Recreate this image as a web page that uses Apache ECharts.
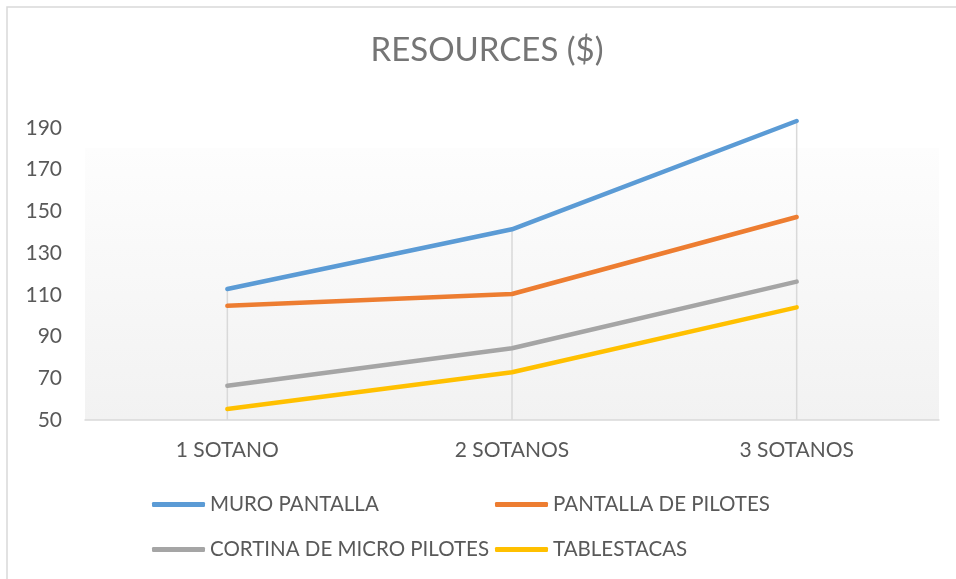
<!DOCTYPE html>
<html>
<head>
<meta charset="utf-8">
<script src="https://cdn.jsdelivr.net/npm/echarts@6/dist/echarts.min.js"></script>
<style>
    html,
    body {
        margin: 0;
        padding: 0;
        background: #ffffff;
    }
    .echart-el {
        width: 956px;
        height: 579px;
    }
</style>
</head>
<body>
<div id="echart_el" class="echart-el"></div>
<script>
const categories = ["1 SOTANO", "2 SOTANOS", "3 SOTANOS"];
const muro_pantalla = [112.8, 141.4, 193.3];
const pantalla_de_pilotes = [104.7, 110.4, 147.3];
const cortina_de_micro_pilotes = [66.4, 84.4, 116.3];
const tablestacas = [55.3, 72.9, 104.0];
const y_ticks = [50, 70, 90, 110, 130, 150, 170, 190];

const series_list = [
    { name: "MURO PANTALLA", data: muro_pantalla, color: "#5b9bd5" },
    { name: "PANTALLA DE PILOTES", data: pantalla_de_pilotes, color: "#ed7d31" },
    { name: "CORTINA DE MICRO PILOTES", data: cortina_de_micro_pilotes, color: "#a5a5a5" },
    { name: "TABLESTACAS", data: tablestacas, color: "#ffc000" },
];

// drop lines: from the highest point of each category down to the axis
const drop_values = categories.map((c, i) =>
    Math.max(...series_list.map((s) => s.data[i]))
);

const font = "Lato, 'Open Sans', sans-serif";
const label_color = "#595959";

let echart_instance = null;
let config = {};

const legend_item = function (s, left, top) {
    return {
        data: [s.name],
        left: left,
        top: top,
        padding: 0,
        icon: "roundRect",
        itemWidth: 53,
        itemHeight: 5,
        textStyle: {
            fontFamily: font,
            fontSize: 20.5,
            color: label_color,
        },
    };
};

const get_config = function () {
    config = {
        animation: false,
        textStyle: {
            fontFamily: font,
        },
        title: {
            text: "RESOURCES ($)",
            left: 487,
            top: 34,
            padding: 0,
            textAlign: "center",
            textStyle: {
                fontFamily: font,
                fontSize: 33,
                fontWeight: "normal",
                color: "#757575",
            },
        },
        graphic: [
            {
                type: "rect",
                shape: { x: 7, y: 7, width: 1000, height: 1000 },
                style: { fill: "none", stroke: "#d9d9d9", lineWidth: 1.5 },
                silent: true,
            },
        ],
        grid: {
            left: 85,
            right: 17,
            top: 107,
            bottom: 159,
            show: true,
            borderWidth: 0,
            backgroundColor: new echarts.graphic.LinearGradient(0, 0, 0, 1, [
                { offset: 0, color: "#ffffff" },
                { offset: 0.13, color: "#ffffff" },
                { offset: 0.131, color: "#fdfdfd" },
                { offset: 1, color: "#f2f2f2" },
            ]),
        },
        legend: [
            legend_item(series_list[0], 152, 494),
            legend_item(series_list[1], 495, 494),
            legend_item(series_list[2], 152, 539),
            legend_item(series_list[3], 495, 539),
        ],
        xAxis: {
            type: "category",
            data: categories,
            axisLine: {
                show: true,
                lineStyle: { color: "#d9d9d9", width: 1.5 },
            },
            axisTick: { show: false },
            splitLine: { show: false },
            axisLabel: {
                margin: 20,
                fontFamily: font,
                fontSize: 21,
                color: label_color,
            },
        },
        yAxis: {
            type: "value",
            min: 50,
            max: 200,
            interval: 10,
            axisLine: { show: false },
            axisTick: { show: false },
            splitLine: { show: false },
            axisLabel: {
                margin: 23,
                fontFamily: font,
                fontSize: 21,
                color: label_color,
                formatter: (v) => (y_ticks.includes(v) ? String(v) : ""),
            },
        },
        series: [
            {
                name: "drop",
                type: "bar",
                data: drop_values,
                barWidth: 1.5,
                itemStyle: { color: "#d9d9d9" },
                silent: true,
                z: 1,
            },
            ...series_list.map((s) => ({
                name: s.name,
                type: "line",
                data: s.data,
                symbol: "none",
                color: s.color,
                lineStyle: { width: 4.5, color: s.color, cap: "round", join: "round" },
                z: 3,
            })),
        ],
    };
};

const set_config = function () {
    echart_instance.setOption(config);
};

const init = function () {
    echart_instance = echarts.init(document.getElementById("echart_el"));
    get_config();
    set_config();
};

init();
</script>
</body>
</html>
